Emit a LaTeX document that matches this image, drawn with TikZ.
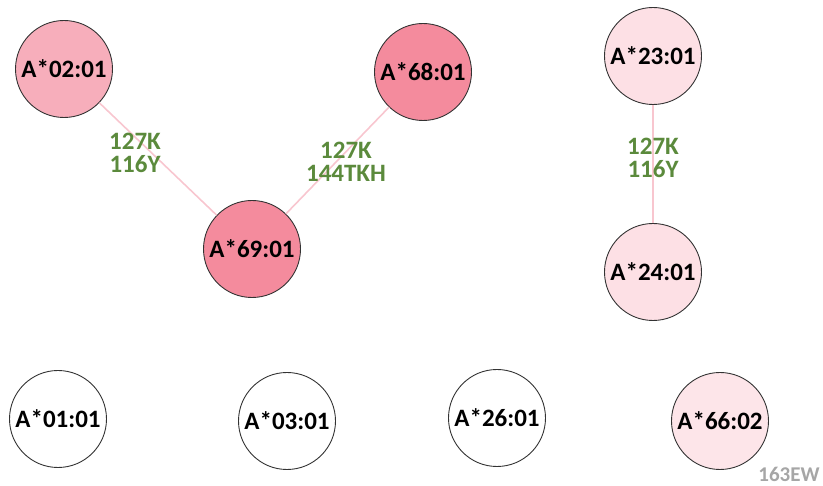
\documentclass[tikz,border=0pt]{standalone}
\usepackage{fontspec}
\setmainfont{Carlito}
\usepackage{xcolor}
\definecolor{pinkmid}{HTML}{F7AEBB}
\definecolor{pinkdark}{HTML}{F48B9D}
\definecolor{pinklight}{HTML}{FDE0E5}
\definecolor{pinkpale}{HTML}{FDE5E9}
\definecolor{edgepink}{HTML}{F8C6CF}
\definecolor{lblgreen}{HTML}{5B8A3C}
\definecolor{notegray}{HTML}{A6A6A6}

\begin{document}
\begin{tikzpicture}[x=1pt, y=-1pt, align=center]
\tikzstyle{v} = [circle, draw=black!80, line width=0.9pt, minimum size=97pt, inner sep=0pt, font=\fontsize{25}{25}\selectfont\bfseries]
\tikzstyle{e} = [draw=edgepink, line width=1.6pt]
\tikzstyle{l} = [text=lblgreen, inner sep=0pt, font=\fontsize{25}{23}\selectfont\bfseries]

\useasboundingbox (0, 0) rectangle (823, 486);

\node[v, fill=pinkmid](A0201) at (64, 69) {A*02:01};
\node[v, fill=pinkdark](A6801) at (423, 72) {A*68:01};
\node[v, fill=pinkdark](A6901) at (252, 249) {A*69:01};
\node[v, fill=pinklight](A2301) at (653, 56) {A*23:01};
\node[v, fill=pinklight](A2401) at (653, 272) {A*24:01};
\node[v, fill=white](A0101) at (58, 419) {A*01:01};
\node[v, fill=white](A0301) at (287, 421) {A*03:01};
\node[v, fill=white](A2601) at (497, 418) {A*26:01};
\node[v, fill=pinkpale](A6602) at (720, 421) {A*66:02};

\draw[e] (A0201) to (A6901);
\draw[e] (A6801) to (A6901);
\draw[e] (A2301) to (A2401);

\node[l](m1) at (135, 153) {127K\\116Y};
\node[l](m2) at (346, 162) {127K\\144TKH};
\node[l](m3) at (653, 158) {127K\\116Y};

\node[l, text=notegray, font=\fontsize{21}{21}\selectfont\bfseries](ew) at (789, 474) {163EW};
\end{tikzpicture}
\end{document}
